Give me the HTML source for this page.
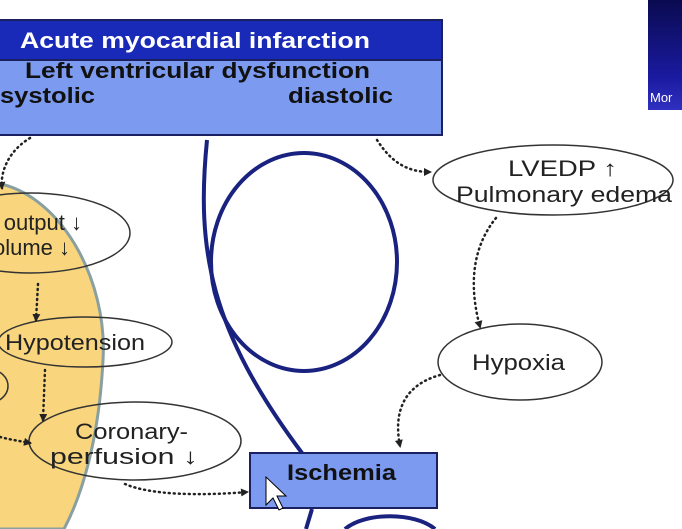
<!DOCTYPE html>
<html><head><meta charset="utf-8"><style>
html,body{margin:0;padding:0;background:#fff;width:682px;height:529px;overflow:hidden}
svg{display:block}
text{font-family:"Liberation Sans",Arial,sans-serif}
</style></head><body>
<svg width="682" height="529" viewBox="0 0 682 529" xmlns="http://www.w3.org/2000/svg">
<defs>
<marker id="ah" markerWidth="8" markerHeight="8" refX="6" refY="4" orient="auto" markerUnits="userSpaceOnUse">
<path d="M0,0 L8,4 L0,8 Z" fill="#222"/></marker>
<linearGradient id="tg" x1="0" y1="0" x2="0" y2="1"><stop offset="0" stop-color="#0a0a50"/><stop offset="0.7" stop-color="#1a1aa0"/><stop offset="1" stop-color="#3030c0"/></linearGradient>
</defs>
<rect x="-2" y="20" width="444" height="115" fill="#7b9af0" stroke="#1a2060" stroke-width="2"/>
<rect x="-2" y="20" width="444" height="40" fill="#1a2ab8" stroke="#1a2060" stroke-width="2"/>
<text x="20" y="48" font-size="22" font-weight="bold" fill="#fff" textLength="350" lengthAdjust="spacingAndGlyphs">Acute  myocardial  infarction</text>
<text x="25" y="78" font-size="22" font-weight="bold" fill="#111" textLength="345" lengthAdjust="spacingAndGlyphs">Left ventricular dysfunction</text>
<text x="0" y="103" font-size="22" font-weight="bold" fill="#111" textLength="95" lengthAdjust="spacingAndGlyphs">systolic</text>
<text x="288" y="103" font-size="22" font-weight="bold" fill="#111" textLength="105" lengthAdjust="spacingAndGlyphs">diastolic</text>
<rect x="648" y="0" width="40" height="110" fill="url(#tg)"/>
<text x="650" y="102" font-size="13" fill="#fff">Mor</text>
<path d="M-10 182 C 60 190, 108 280, 103 360 C 99 440, 82 495, 64 529 L -10 529 Z" fill="#f9d67e" stroke="#8aa0a0" stroke-width="3"/>
<g fill="none" stroke="#333" stroke-width="1.5">
<ellipse cx="30" cy="233" rx="100" ry="40"/>
<ellipse cx="85" cy="342" rx="87" ry="25"/>
<ellipse cx="-15" cy="386" rx="23" ry="18"/>
<ellipse cx="135" cy="441" rx="106" ry="39"/>
<ellipse cx="553" cy="180" rx="120" ry="35"/>
<ellipse cx="520" cy="362" rx="82" ry="38"/>
</g>
<text x="82" y="230" font-size="22" fill="#222" text-anchor="end">Cardiac output ↓</text>
<text x="70" y="255" font-size="22" fill="#222" text-anchor="end">Stroke volume ↓</text>
<text x="5" y="350" font-size="22" fill="#222" textLength="140" lengthAdjust="spacingAndGlyphs">Hypotension</text>
<text x="75" y="439" font-size="22" fill="#222" textLength="113" lengthAdjust="spacingAndGlyphs">Coronary-</text>
<text x="50" y="464" font-size="22" fill="#222" textLength="148" lengthAdjust="spacingAndGlyphs">perfusion ↓</text>
<text x="508" y="176" font-size="22" fill="#222" textLength="109" lengthAdjust="spacingAndGlyphs">LVEDP ↑</text>
<text x="456" y="202" font-size="22" fill="#222" textLength="216" lengthAdjust="spacingAndGlyphs">Pulmonary edema</text>
<text x="472" y="370" font-size="22" fill="#222" textLength="93" lengthAdjust="spacingAndGlyphs">Hypoxia</text>
<rect x="250" y="453" width="187" height="55" fill="#7b9af0" stroke="#1a2060" stroke-width="2"/>
<text x="287" y="480" font-size="22" font-weight="bold" fill="#111" textLength="109" lengthAdjust="spacingAndGlyphs">Ischemia</text>
<g fill="none" stroke="#1a2280" stroke-width="4">
<ellipse cx="304" cy="262" rx="93" ry="109"/>
<path d="M207 140 C 196 250, 210 330, 302 453"/>
<path d="M312 509 L 306 529"/>
<path d="M345 529 C 365 512, 415 512, 435 529"/>
</g>
<g fill="none" stroke="#222" stroke-width="2.5" stroke-dasharray="1 4" stroke-linecap="round" marker-end="url(#ah)">
<path d="M30 138 C 10 150, 0 170, 2 188"/>
<path d="M377 140 C 390 160, 405 172, 430 172"/>
<path d="M496 218 C 470 250, 470 290, 480 327"/>
<path d="M440 375 C 405 385, 393 410, 400 446"/>
<path d="M125 484 C 150 495, 200 496, 247 492"/>
<path d="M38 284 L 36 320"/>
<path d="M45 370 L 43 420"/>
<path d="M0 437 C 12 440, 20 441, 30 443"/>
</g>
<path d="M266 477 L266 505 L273 498 L279 510 L283 508 L277 496 L286 496 Z" fill="#fff" stroke="#000" stroke-width="1"/>
</svg>
</body></html>
